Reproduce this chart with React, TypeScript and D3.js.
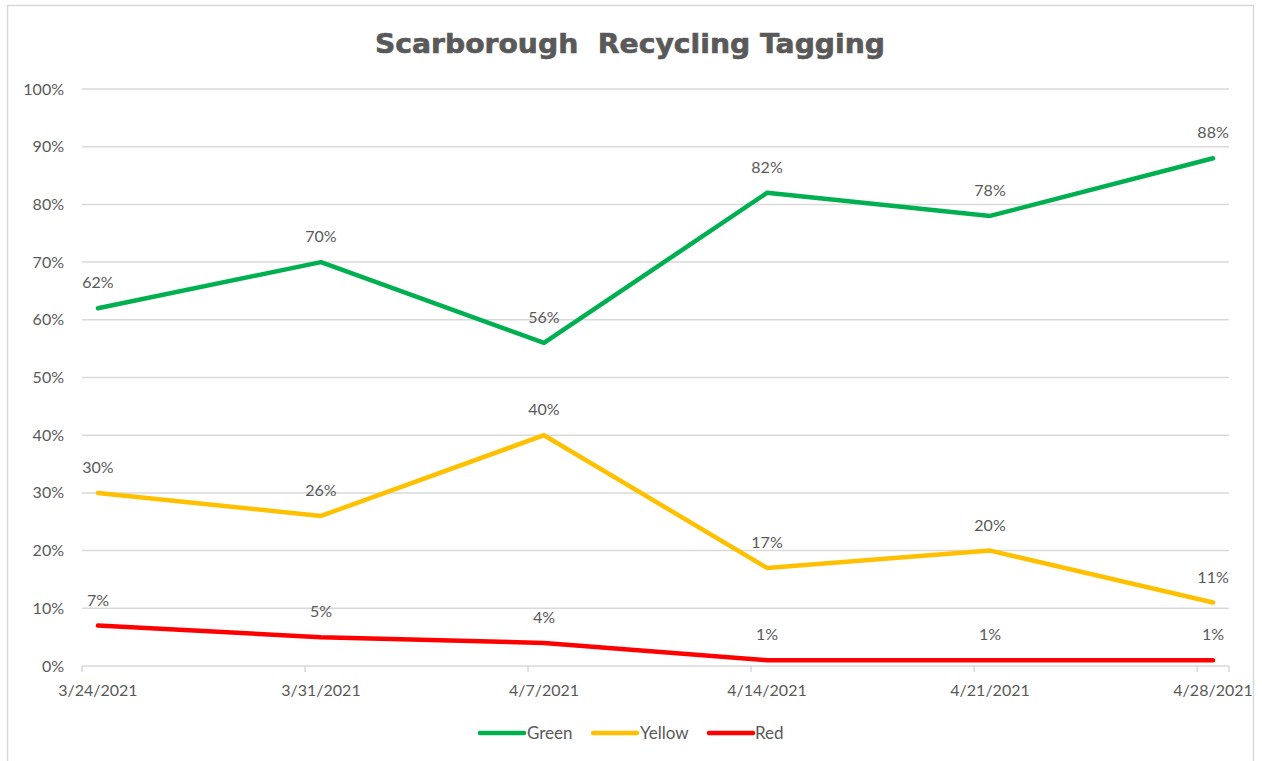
import React from 'react';
import { scaleTime, scaleLinear, line, timeDay } from 'd3';

const dates = ['2021-03-24', '2021-03-31', '2021-04-07', '2021-04-14', '2021-04-21', '2021-04-28'];
const dateLabels = ['3/24/2021', '3/31/2021', '4/7/2021', '4/14/2021', '4/21/2021', '4/28/2021'];
const green = [62, 70, 56, 82, 78, 88];
const yellow = [30, 26, 40, 17, 20, 11];
const red = [7, 5, 4, 1, 1, 1];
const yTicks = [0, 10, 20, 30, 40, 50, 60, 70, 80, 90, 100];

const seriesList = [
  { name: 'Green', values: green, color: '#00B050' },
  { name: 'Yellow', values: yellow, color: '#FFC000' },
  { name: 'Red', values: red, color: '#FF0000' },
];

const parse = (s: string) => {
  const [y, m, d] = s.split('-').map(Number);
  return new Date(y, m - 1, d);
};

const App = () => {
  const width = 1262;
  const height = 761;
  const left = 82;
  const right = 1229;
  const top = 89;
  const bottom = 666;

  const days = dates.map(parse);
  const start = days[0];
  const end = timeDay.offset(days[days.length - 1], 1);

  const xScale = scaleTime().domain([start, end]).range([left, right]);
  const yScale = scaleLinear().domain([0, 100]).range([bottom, top]);

  // points sit in the middle of their day
  const px = (d: Date) => xScale(new Date(d.getTime() + 12 * 3600 * 1000));

  const lineGen = line<number>()
    .x((_, i) => px(days[i]))
    .y(v => yScale(v));

  const textColor = '#595959';
  const font = 'Lato, "Open Sans", sans-serif';

  const legendItems = [
    { x: 480, textX: 527 },
    { x: 593, textX: 640 },
    { x: 709, textX: 755 },
  ];

  return (
    <svg width={width} height={height} viewBox={`0 0 ${width} ${height}`}
      style={{ position: 'absolute', left: 0, top: 0, background: '#fff' }}>
      <rect x={7.5} y={5.5} width={1246} height={770} fill="#fff" stroke="#d9d9d9" strokeWidth={1.5} />

      <text x={630} y={53} textAnchor="middle" fill={textColor}
        fontFamily='"DejaVu Sans", sans-serif' fontWeight="bold" fontSize={26}
        textLength={510} lengthAdjust="spacingAndGlyphs" stroke={textColor} strokeWidth={0.6}>
        {'Scarborough\u00a0 Recycling Tagging'}
      </text>

      {yTicks.map(t => (
        <g key={t}>
          <line x1={left} x2={right} y1={yScale(t)} y2={yScale(t)} stroke="#d9d9d9" strokeWidth={1.5} />
          <text x={64} y={yScale(t) + 5.5} textAnchor="end" fill={textColor} fontFamily={font} fontSize={16}>
            {t}%
          </text>
        </g>
      ))}

      {[...days, end].map((d, i) => (
        <line key={i} x1={xScale(d)} x2={xScale(d)} y1={bottom} y2={bottom + 6} stroke="#d9d9d9" strokeWidth={1.5} />
      ))}

      {days.map((d, i) => (
        <text key={i} x={px(d)} y={bottom + 30} textAnchor="middle" fill={textColor} fontFamily={font} fontSize={16}>
          {dateLabels[i]}
        </text>
      ))}

      {seriesList.map(s => (
        <g key={s.name}>
          <path d={lineGen(s.values) || ''} fill="none" stroke={s.color} strokeWidth={4.5}
            strokeLinecap="round" strokeLinejoin="round" />
          {s.values.map((v, i) => (
            <text key={i} x={px(days[i])} y={yScale(v) - 20} textAnchor="middle" fill={textColor}
              fontFamily={font} fontSize={16}>
              {v}%
            </text>
          ))}
        </g>
      ))}

      {seriesList.map((s, i) => (
        <g key={s.name}>
          <line x1={legendItems[i].x} x2={legendItems[i].x + 44} y1={733} y2={733}
            stroke={s.color} strokeWidth={4.5} strokeLinecap="round" />
          <text x={legendItems[i].textX} y={739} fill={textColor} fontFamily={font} fontSize={17}>
            {s.name}
          </text>
        </g>
      ))}
    </svg>
  );
};

export default App;
